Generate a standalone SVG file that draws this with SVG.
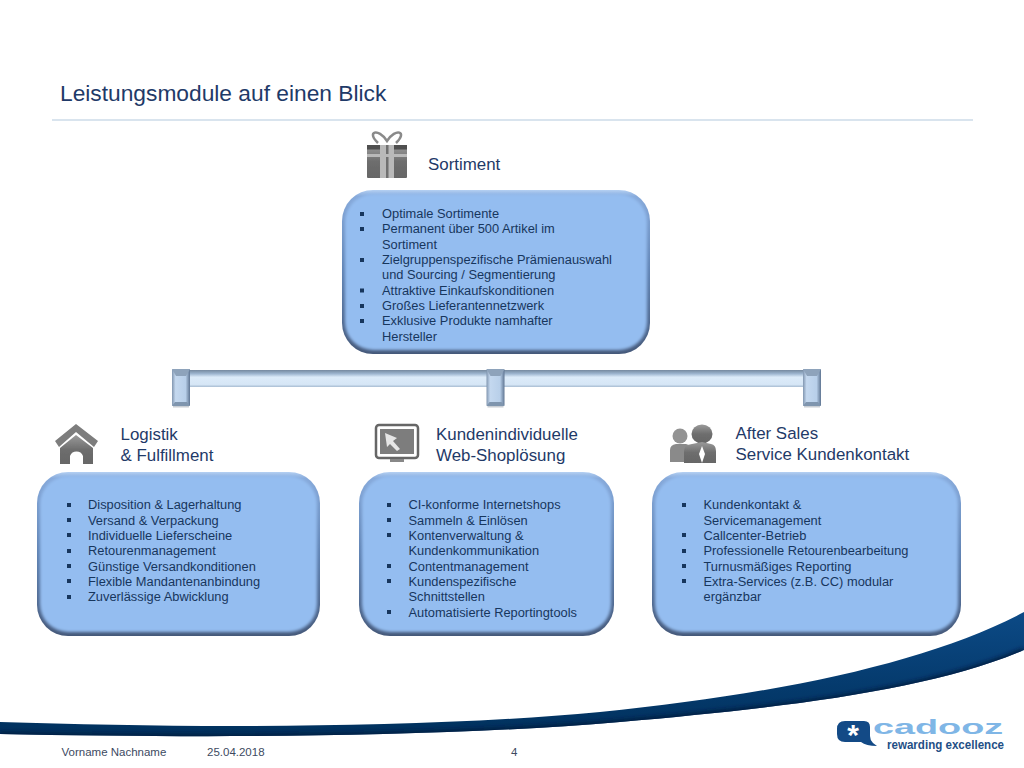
<svg xmlns="http://www.w3.org/2000/svg" width="1024" height="768" viewBox="0 0 1024 768">
<style>
text{font-family:"Liberation Sans",Arial,sans-serif;fill:#1f3864}
.h{font-size:16.9px;fill:#1f3a68}
.b{font-size:12.85px;fill:#17365d}
.s{fill:#17365d}
.f{font-size:11.5px;fill:#3d4a5f}
.box{fill:url(#boxEdge)}
.inner{fill:#94bdf0;filter:url(#soft)}
.ic{fill:url(#icon)}
.soft{filter:url(#blur1)}
</style>
<defs>
<linearGradient id="boxEdge" x1="0" y1="0" x2="0" y2="1">
<stop offset="0" stop-color="#b4d0f3"/><stop offset=".04" stop-color="#86a9da"/><stop offset=".5" stop-color="#5f82b2"/><stop offset="1" stop-color="#45597a"/>
</linearGradient>
<linearGradient id="icon" x1="0" y1="0" x2="0" y2="1">
<stop offset="0" stop-color="#9a9a9a"/><stop offset=".5" stop-color="#6e6e6e"/><stop offset="1" stop-color="#666"/>
</linearGradient>
<linearGradient id="hbar" x1="0" y1="0" x2="0" y2="1">
<stop offset="0" stop-color="#75899f"/><stop offset=".22" stop-color="#9db5cf"/><stop offset=".42" stop-color="#dcebf9"/><stop offset=".85" stop-color="#d6e6f6"/><stop offset="1" stop-color="#a8bcd2"/>
</linearGradient>
<linearGradient id="vbar" x1="0" y1="0" x2="1" y2="0">
<stop offset="0" stop-color="#8196b0"/><stop offset=".2" stop-color="#c4d8ef"/><stop offset=".75" stop-color="#b8cfe9"/><stop offset="1" stop-color="#5f7592"/>
</linearGradient>
<linearGradient id="swoosh" x1="0" y1="0" x2="0" y2="1">
<stop offset="0" stop-color="#0c4a86"/><stop offset="1" stop-color="#00305c"/>
</linearGradient>
<filter id="soft" x="-5%" y="-5%" width="110%" height="110%"><feGaussianBlur stdDeviation="1.6"/></filter>
<filter id="blur1" x="-10%" y="-10%" width="120%" height="120%"><feGaussianBlur stdDeviation=".5"/></filter>
<filter id="shade" x="-5%" y="-20%" width="110%" height="140%"><feGaussianBlur stdDeviation="2"/></filter>
<clipPath id="bandClip"><path d="M0 722C180 728 420 729 600 712C780 694 930 662 1024 612L1024 650C930 690 790 707 620 722C430 738 200 738 0 734Z"/></clipPath>
<g id="stub">
<rect x="-9" y="0" width="18" height="37" fill="url(#vbar)" rx="1"/>
<polygon points="-9,0 9,0 5,7 -5,7" fill="#8ea3bb"/>
<polygon points="-6,33 6,33 9,37 -9,37" fill="#7f95ae"/>
<rect x="-8" y="37" width="16" height="1.500" fill="#c9ced4"/>
</g>
</defs>
<rect width="1024" height="768" fill="#fff"/>

<g id="header">
<text x="60" y="100.500" style="font-size:22.75px;fill:#1f3a68">Leistungsmodule auf einen Blick</text>
<rect x="52" y="119.500" width="921" height="1" fill="#b3cadd"/>
</g>

<g id="swoosh-band">
<path d="M0 722C180 728 420 729 600 712C780 694 930 662 1024 612L1024 650C930 690 790 707 620 722C430 738 200 738 0 734Z" fill="url(#swoosh)"/>
<g clip-path="url(#bandClip)"><path d="M0 735C200 739 430 739 620 723C790 708 930 691 1024 651" fill="none" stroke="#001f3f" stroke-width="6" filter="url(#shade)"/></g>
</g>

<g id="connectors">
<rect x="182" y="370" width="630" height="17" fill="url(#hbar)"/>
<use href="#stub" x="181" y="369"/>
<use href="#stub" x="495.500" y="369"/>
<use href="#stub" x="812" y="369"/>
</g>

<g id="node-sortiment">
<g class="soft">
<path d="M378 143C366 132 378 127 387 141C396 127 408 132 396 143" fill="none" stroke="#8a8a8a" stroke-width="2.500"/>
<rect x="367" y="145" width="40" height="33" class="ic" rx="1"/>
<rect x="367" y="145" width="40" height="4.500" fill="#4f4f4f"/>
<rect x="380" y="145" width="14" height="33" fill="#b9b9b9"/>
<rect x="386" y="145" width="2.500" height="33" fill="#6f6f6f"/>
<rect x="367" y="154" width="40" height="3" fill="#b9b9b9"/>
</g>
<text class="h" x="428" y="170">Sortiment</text>
<rect class="box" x="342" y="190" width="308" height="164" rx="31"/>
<rect class="inner" x="345" y="194" width="302" height="156" rx="28"/>
<g class="s">
<rect x="360" y="212" width="4" height="4"/><rect x="360" y="227" width="4" height="4"/><rect x="360" y="258" width="4" height="4"/><rect x="360" y="288.500" width="4" height="4"/><rect x="360" y="304" width="4" height="4"/><rect x="360" y="319" width="4" height="4"/>
</g>
<text class="b" x="382" y="218">Optimale Sortimente</text>
<text class="b" x="382" y="233">Permanent über 500 Artikel im</text>
<text class="b" x="382" y="248.500">Sortiment</text>
<text class="b" x="382" y="264">Zielgruppenspezifische Prämienauswahl</text>
<text class="b" x="382" y="279">und Sourcing / Segmentierung</text>
<text class="b" x="382" y="294.500">Attraktive Einkaufskonditionen</text>
<text class="b" x="382" y="310">Großes Lieferantennetzwerk</text>
<text class="b" x="382" y="325">Exklusive Produkte namhafter</text>
<text class="b" x="382" y="340.500">Hersteller</text>
</g>

<g id="node-logistik">
<g class="soft">
<path d="M55 441L76 424L98 441L94 447L76 432L59 447Z" fill="#7d7d7d"/>
<path d="M60 448L76 435L93 448V464H83V456A7 7 0 0 0 70 456V464H60Z" class="ic"/>
</g>
<text class="h" x="120.500" y="440">Logistik</text>
<text class="h" x="120.500" y="461">&amp; Fulfillment</text>
<rect class="box" x="37" y="472" width="283" height="164" rx="31"/>
<rect class="inner" x="40" y="476" width="277" height="156" rx="28"/>
<g class="s">
<rect x="67" y="503" width="4" height="4"/><rect x="67" y="518" width="4" height="4"/><rect x="67" y="533" width="4" height="4"/><rect x="67" y="549" width="4" height="4"/><rect x="67" y="564" width="4" height="4"/><rect x="67" y="579" width="4" height="4"/><rect x="67" y="595" width="4" height="4"/>
</g>
<text class="b" x="88" y="509">Disposition &amp; Lagerhaltung</text>
<text class="b" x="88" y="524.500">Versand &amp; Verpackung</text>
<text class="b" x="88" y="540">Individuelle Lieferscheine</text>
<text class="b" x="88" y="555">Retourenmanagement</text>
<text class="b" x="88" y="570.500">Günstige Versandkonditionen</text>
<text class="b" x="88" y="586">Flexible Mandantenanbindung</text>
<text class="b" x="88" y="601">Zuverlässige Abwicklung</text>
</g>

<g id="node-webshop">
<g class="soft">
<rect x="376" y="425" width="42" height="33" rx="3" fill="#fff" stroke="#666" stroke-width="2.500"/>
<rect x="380" y="429" width="34" height="25" fill="#7d7d7d"/>
<polygon points="385,433 397,438 393,441 400,449 397,451 390,444 387,447" fill="#e6e6e6"/>
<rect x="390" y="459" width="14" height="3" fill="#888"/>
</g>
<text class="h" x="436" y="440">Kundenindividuelle</text>
<text class="h" x="436" y="461">Web-Shoplösung</text>
<rect class="box" x="359" y="472" width="255" height="164" rx="31"/>
<rect class="inner" x="362" y="476" width="249" height="156" rx="28"/>
<g class="s">
<rect x="387" y="503" width="4" height="4"/><rect x="387" y="518" width="4" height="4"/><rect x="387" y="533" width="4" height="4"/><rect x="387" y="564" width="4" height="4"/><rect x="387" y="579" width="4" height="4"/><rect x="387" y="610" width="4" height="4"/>
</g>
<text class="b" x="408.500" y="509">CI-konforme Internetshops</text>
<text class="b" x="408.500" y="524.500">Sammeln &amp; Einlösen</text>
<text class="b" x="408.500" y="540">Kontenverwaltung &amp;</text>
<text class="b" x="408.500" y="555">Kundenkommunikation</text>
<text class="b" x="408.500" y="570.500">Contentmanagement</text>
<text class="b" x="408.500" y="586">Kundenspezifische</text>
<text class="b" x="408.500" y="601">Schnittstellen</text>
<text class="b" x="408.500" y="616.500">Automatisierte Reportingtools</text>
</g>

<g id="node-aftersales">
<g class="soft">
<circle cx="680" cy="436" r="7.500" fill="#939393"/>
<path d="M670 462V450Q670 445 676 444H686Q690 445 692 447L684 453V462Z" fill="#8a8a8a"/>
<ellipse cx="702" cy="434" rx="10.500" ry="9.500" class="ic"/>
<path d="M684 463V451Q684 445 692 444L702 442L711 444Q716 445 716 451V463Z" class="ic"/>
<polygon points="702,446 705,454 702,463 699,454" fill="#fff"/>
</g>
<text class="h" x="735.500" y="439">After Sales</text>
<text class="h" x="735.500" y="459.500">Service Kundenkontakt</text>
<rect class="box" x="652" y="472" width="309" height="164" rx="31"/>
<rect class="inner" x="655" y="476" width="303" height="156" rx="28"/>
<g class="s">
<rect x="682" y="503" width="4" height="4"/><rect x="682" y="533" width="4" height="4"/><rect x="682" y="549" width="4" height="4"/><rect x="682" y="564" width="4" height="4"/><rect x="682" y="579" width="4" height="4"/>
</g>
<text class="b" x="703.500" y="509">Kundenkontakt &amp;</text>
<text class="b" x="703.500" y="524.500">Servicemanagement</text>
<text class="b" x="703.500" y="540">Callcenter-Betrieb</text>
<text class="b" x="703.500" y="555">Professionelle Retourenbearbeitung</text>
<text class="b" x="703.500" y="570.500">Turnusmäßiges Reporting</text>
<text class="b" x="703.500" y="586">Extra-Services (z.B. CC) modular</text>
<text class="b" x="703.500" y="601">ergänzbar</text>
</g>

<g id="logo">
<path d="M845 721H864Q870 721 870 727V736Q870 740 873 743L877 746Q866 746 861 742H845Q837 742 837 734V729Q837 721 845 721Z" fill="#134a86"/>
<text x="853" y="745" style="font-size:30px;font-weight:bold;fill:#fff" text-anchor="middle">*</text>
<text transform="translate(873 734) scale(1.8 1)" style="font-size:21px;fill:#7fb6e6;font-weight:bold">cadooz</text>
<text x="887" y="748.500" textLength="117" lengthAdjust="spacingAndGlyphs" style="font-size:12px;fill:#1f4f86;font-weight:bold">rewarding excellence</text>
</g>

<g id="footer">
<text class="f" x="61.500" y="756">Vorname Nachname</text>
<text class="f" x="207" y="756">25.04.2018</text>
<text class="f" x="511" y="756">4</text>
</g>
</svg>
